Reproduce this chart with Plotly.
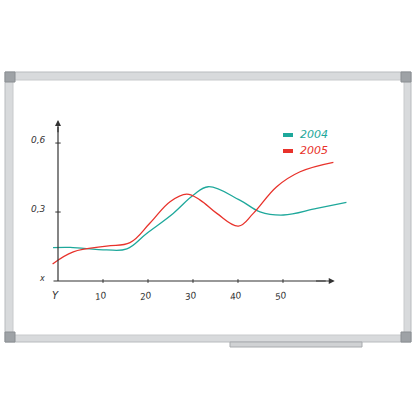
import plotly.graph_objects as go

x_2004 = [-1.1, 2.7, 10.8, 15.3, 19.7, 25.6, 30.1, 33.4, 40.4, 44.9, 50.1, 57.5, 64.1]
y_2004 = [0.145, 0.146, 0.135, 0.14, 0.207, 0.294, 0.374, 0.41, 0.352, 0.301, 0.287, 0.316, 0.342]
x_2005 = [-1.2, 3.4, 10.8, 16.0, 20.4, 24.9, 28.6, 31.6, 35.3, 40.1, 43.4, 48.6, 53.8, 61.2]
y_2005 = [0.074, 0.127, 0.152, 0.167, 0.251, 0.345, 0.378, 0.352, 0.294, 0.239, 0.294, 0.41, 0.475, 0.516]
x_ticks = [10, 20, 30, 40, 50]
y_ticks = [0.3, 0.6]
y_tick_text = ["0,3", "0,6"]

TEAL = "#1ea89b"
RED = "#e8322b"
INK = "#333333"
HAND = "DejaVu Sans"

fig = go.Figure()
fig.add_trace(go.Scatter(x=x_2004, y=y_2004, mode="lines", name="2004",
                         line=dict(color=TEAL, width=1.3, shape="spline", smoothing=1.1)))
fig.add_trace(go.Scatter(x=x_2005, y=y_2005, mode="lines", name="2005",
                         line=dict(color=RED, width=1.3, shape="spline", smoothing=1.1)))

def px(x0, y0, x1, y1):
    return dict(xref="paper", yref="paper", x0=x0 / 416, x1=x1 / 416,
                y0=1 - y0 / 416, y1=1 - y1 / 416)

shapes = [
    # whiteboard frame
    dict(type="rect", **px(5, 72, 411, 342), fillcolor="#d8dadc", line=dict(color="#b8bbbe", width=1), layer="below"),
    dict(type="rect", **px(13, 80, 404, 335), fillcolor="white", line=dict(color="#c8cacc", width=1), layer="below"),
    dict(type="rect", **px(230, 342, 362, 347), fillcolor="#d0d2d4", line=dict(color="#a8abae", width=1), layer="below"),
]
for cx, cy in [(5, 72), (401, 72), (5, 332), (401, 332)]:
    shapes.append(dict(type="rect", **px(cx, cy, cx + 10, cy + 10),
                       fillcolor="#9ea2a6", line=dict(color="#8a8e92", width=1)))
# axes
shapes.append(dict(type="line", xref="x", yref="y", x0=0, y0=0, x1=0, y1=0.67, line=dict(color=INK, width=1.2)))
shapes.append(dict(type="line", xref="x", yref="y", x0=-1, y0=0, x1=59.5, y1=0, line=dict(color=INK, width=1.2)))
for t in x_ticks:
    shapes.append(dict(type="line", xref="x", yref="y", x0=t, y0=-0.008, x1=t, y1=0.008, line=dict(color=INK, width=1)))
for t in y_ticks:
    shapes.append(dict(type="line", xref="x", yref="y", x0=-0.6, y0=t, x1=0.6, y1=t, line=dict(color=INK, width=1)))
# legend swatches
shapes.append(dict(type="rect", **px(283, 133, 293, 137), fillcolor=TEAL, line=dict(width=0)))
shapes.append(dict(type="rect", **px(283, 149, 293, 153), fillcolor=RED, line=dict(width=0)))

ann = []
# arrow heads
ann.append(dict(x=0, y=0.7, ax=0, ay=0.64, xref="x", yref="y", axref="x", ayref="y",
                text="", showarrow=True, arrowhead=2, arrowsize=1, arrowwidth=1.2, arrowcolor=INK))
ann.append(dict(x=61.5, y=0, ax=57, ay=0, xref="x", yref="y", axref="x", ayref="y",
                text="", showarrow=True, arrowhead=2, arrowsize=1, arrowwidth=1.2, arrowcolor=INK))
for t in x_ticks:
    ann.append(dict(x=t - 0.5, y=-0.065, xref="x", yref="y", text=str(t), showarrow=False,
                    textangle=-12, font=dict(family=HAND, size=9, color=INK, style="italic")))
for t, s in zip(y_ticks, y_tick_text):
    ann.append(dict(x=-2.2, y=t + 0.015, xref="x", yref="y", text=s, showarrow=False,
                    xanchor="right", yanchor="middle",
                    font=dict(family=HAND, size=9, color=INK, style="italic")))
ann.append(dict(x=-3.5, y=0.012, xref="x", yref="y", text="x", showarrow=False,
                font=dict(family=HAND, size=8, color=INK, style="italic")))
ann.append(dict(x=-0.5, y=-0.065, xref="x", yref="y", text="Y", showarrow=False,
                font=dict(family=HAND, size=10, color=INK, style="italic")))
ann.append(dict(x=298 / 416, y=1 - 134 / 416, xref="paper", yref="paper", text="2004", showarrow=False,
                xanchor="left", yanchor="middle", font=dict(family=HAND, size=11, color=TEAL, style="italic")))
ann.append(dict(x=298 / 416, y=1 - 150 / 416, xref="paper", yref="paper", text="2005", showarrow=False,
                xanchor="left", yanchor="middle", font=dict(family=HAND, size=11, color=RED, style="italic")))

fig.update_layout(
    width=416, height=416, autosize=False,
    margin=dict(l=0, r=0, t=0, b=0),
    paper_bgcolor="white", plot_bgcolor="rgba(0,0,0,0)",
    showlegend=False,
    xaxis=dict(range=[-12.89, 79.56], visible=False, fixedrange=True),
    yaxis=dict(range=[-0.587, 1.222], visible=False, fixedrange=True),
    shapes=shapes, annotations=ann,
)

# drop the browser's default page margin so the figure fills the window
fig.write_html("out.html", config={"displayModeBar": False},
               post_script="document.body.style.margin='0';document.body.style.overflow='hidden';")
